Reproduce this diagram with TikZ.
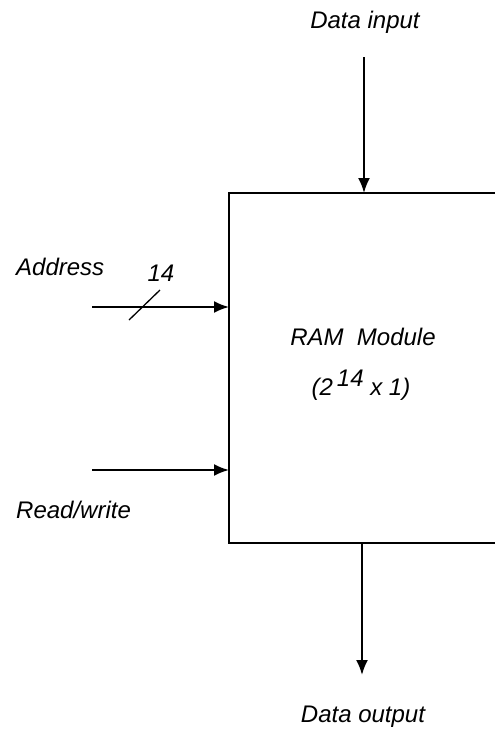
\documentclass[tikz,border=0pt]{standalone}
\usepackage{fontspec}
\setmainfont{Liberation Sans}
\usetikzlibrary{arrows.meta}
\begin{document}
\begin{tikzpicture}[x=1pt,y=-1pt,
  lbl/.style={font=\fontsize{24}{28}\selectfont\itshape, inner sep=0pt},
  wire/.style={line width=2pt, -{Latex[length=15pt,width=12pt]}},
  boxline/.style={line width=2pt}]
\useasboundingbox (0,0) rectangle (495,731);
% box (right side runs off the picture)
\coordinate (tl) at (229,193);
\coordinate (bl) at (229,543);
\draw[boxline] (500,193) -- (tl) -- (bl) -- (500,543);
% box texts
\node[lbl] (ram) at (363,337) {RAM\ \ Module};
\node[lbl] (size) at (361,385) {(2\,\raisebox{0.7ex}{14} x 1)};
% data input
\node[lbl] (din) at (365,22) {Data input};
\coordinate (dinS) at (364,57);
\coordinate (dinE) at (364,193);
\draw[wire] (dinS) -- (dinE);
% address
\node[lbl, anchor=west] (addr) at (16,267) {Address};
\coordinate (aS) at (92,307);
\coordinate (aE) at (229,307);
\draw[wire] (aS) -- (aE);
\coordinate (s1) at (129,320);
\coordinate (s2) at (160,290);
\draw[line width=1.3pt] (s1) -- (s2);
\node[lbl] (n14) at (161,273) {14};
% read/write
\node[lbl, anchor=west] (rw) at (16,510) {Read/write};
\coordinate (rS) at (92,470);
\coordinate (rE) at (229,470);
\draw[wire] (rS) -- (rE);
% data output
\coordinate (doS) at (362,543);
\coordinate (doE) at (362,675);
\draw[wire] (doS) -- (doE);
\node[lbl] (dout) at (363,717) {Data output};
\end{tikzpicture}
\end{document}
